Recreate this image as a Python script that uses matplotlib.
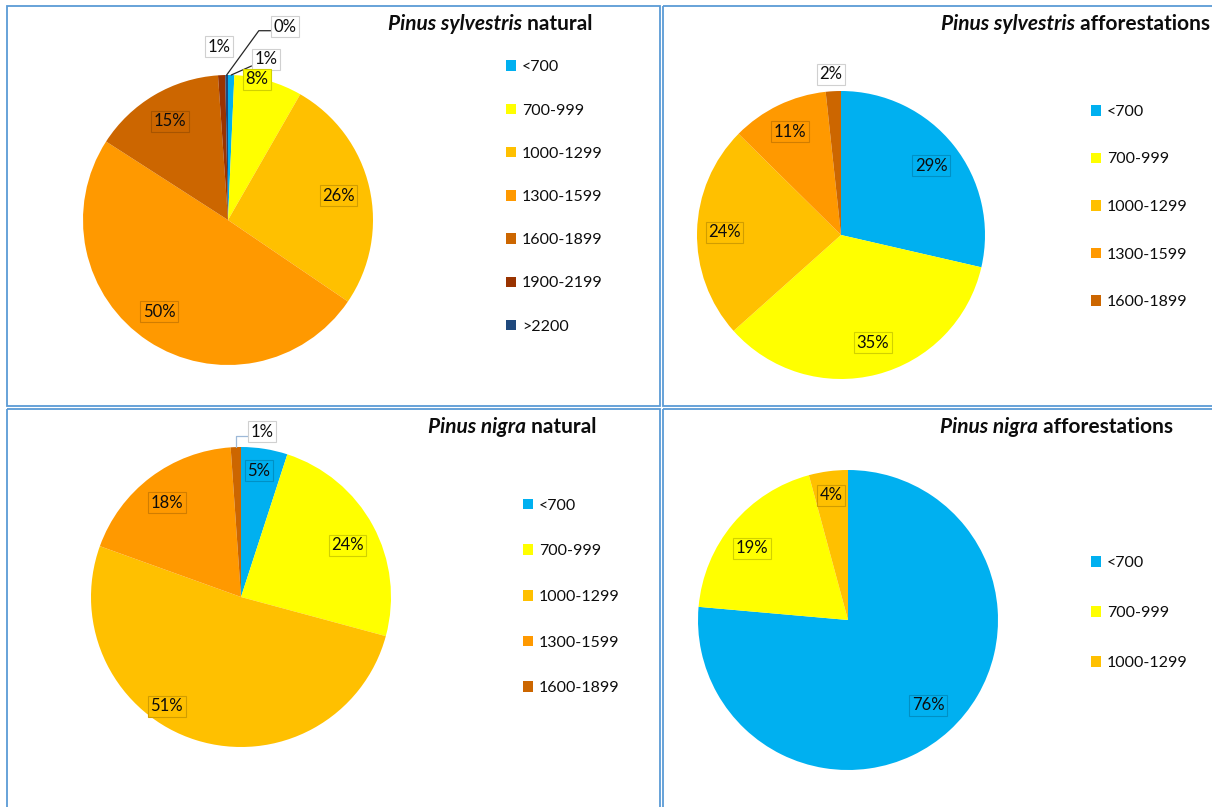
import numpy as np
import matplotlib.pyplot as plt
from matplotlib.patches import Rectangle
from matplotlib.colors import to_rgb

plt.rcParams['font.family'] = ['Lato', 'DejaVu Sans']

# altitude classes (m a.s.l.) and the fill used for each
bands = ['<700', '700-999', '1000-1299', '1300-1599', '1600-1899', '1900-2199', '>2200']
band_colors = ['#00B0F0', '#FFFF00', '#FFC000', '#FF9900', '#CC6600', '#993300', '#1F497D']

# share of stands in each altitude class (%)
sylvestris_natural = [0.7, 7.6, 26.2, 49.6, 14.8, 0.8, 0.3]
sylvestris_afforest = [28.6, 34.8, 24.0, 10.9, 1.7]
nigra_natural = [5.0, 24.2, 51.3, 18.4, 1.1]
nigra_afforest = [76.4, 19.4, 4.2]

W, H = 1212, 807
TXT = '#0D0D0D'
EDGE = '#5B9BD5'

fig = plt.figure(figsize=(W / 100, H / 100), dpi=100)
bg = fig.add_axes([0, 0, 1, 1])
bg.set_xlim(0, W)
bg.set_ylim(H, 0)
bg.axis('off')

# panel frames (x0, y0, x1, y1) in pixels
for x0, y0, x1, y1 in [(6.5, 5.5, 659.5, 406), (662.5, 5.5, 1230, 406),
                       (6.5, 409, 659.5, 830), (662.5, 409, 1230, 830)]:
    bg.add_patch(Rectangle((x0, y0), x1 - x0, y1 - y0, fill=False, ec=EDGE, lw=1.3))


def darker(c, f=0.82):
    r, g, b = to_rgb(c)
    return (r * f, g * f, b * f)


def title(x, y, species, rest):
    t = bg.text(x, y, species, fontsize=15, fontweight='bold', fontstyle='italic',
                color=TXT, ha='left', va='center')
    bg.annotate(' ' + rest, xy=(1, 0.5), xycoords=t, fontsize=15, fontweight='bold',
                color=TXT, ha='left', va='center')


def pie_panel(values, cx, cy, r, spots, legend_at, spacing, leader_color='#262626'):
    ax = fig.add_axes([(cx - r) / W, 1 - (cy + r) / H, 2 * r / W, 2 * r / H])
    cols = band_colors[:len(values)]
    wedges, _ = ax.pie(values, colors=cols, startangle=90, counterclock=False,
                       radius=1, wedgeprops=dict(linewidth=0))
    ax.set_xlim(-1, 1)
    ax.set_ylim(-1, 1)
    ax.axis('off')

    vals = np.asarray(values, dtype=float)
    mids = 360 * (np.cumsum(vals) - vals / 2) / vals.sum()
    for v, c, mid, (dist, shift, leader) in zip(vals, cols, mids, spots):
        lab = f'{v:.0f}%'
        a = np.deg2rad(90 - (mid + shift))
        x, y = dist * np.cos(a), dist * np.sin(a)
        inside = dist < 1.05
        box = dict(boxstyle='square,pad=0.15',
                   fc=c if inside else 'white',
                   ec=darker(c) if inside else '#D0D0D0', lw=0.8)
        if leader is None:
            ax.text(x, y, lab, fontsize=12, color=TXT, ha='center', va='center',
                    bbox=box, clip_on=False)
        else:
            e = np.deg2rad(90 - mid)
            ax.annotate(lab, xy=(np.cos(e), np.sin(e)), xytext=(x, y), fontsize=12,
                        color=TXT, ha='center', va='center', bbox=box,
                        arrowprops=dict(arrowstyle='-', color=leader_color, lw=0.9,
                                        shrinkA=0, shrinkB=0, relpos=(0, 0.25),
                                        connectionstyle=f'angle,angleA=0,angleB={leader},rad=0'))

    ax.legend(wedges, bands[:len(values)], loc='center left',
              bbox_to_anchor=(legend_at[0] / W, 1 - legend_at[1] / H),
              bbox_transform=fig.transFigure, frameon=False, fontsize=11.5,
              labelcolor=TXT, handlelength=0.65, handleheight=0.65,
              handletextpad=0.35, labelspacing=spacing, borderpad=0, borderaxespad=0)


# label spots per slice: (radius, angle shift in degrees, leader angle or None)
pie_panel(sylvestris_natural, 228, 220, 145,
          [(1.14, 12, 24), (0.99, -4.5, None), (0.78, 0.7, None), (0.79, 3.4, None),
           (0.79, 0.2, None), (1.195, -0.5, None), (1.39, 17, 54)],
          (506, 197), 1.83)
title(388, 24, 'Pinus sylvestris', 'natural')

pie_panel(sylvestris_afforest, 841, 235, 144,
          [(0.79, 1, None), (0.78, -2, None), (0.81, 0, None), (0.80, -0.4, None),
           (1.12, -0.5, None)],
          (1091, 207), 2.1)
title(941, 24, 'Pinus sylvestris', 'afforestations')

pie_panel(nigra_natural, 241, 597, 150,
          [(0.85, -0.9, None), (0.79, 2.5, None), (0.88, 16.7, None), (0.80, -1.1, None),
           (1.11, 9.3, 90)],
          (523, 597), 1.98, leader_color='#9DB9D8')
title(428, 427, 'Pinus nigra', 'natural')

pie_panel(nigra_afforest, 848, 620, 150,
          [(0.78, -0.8, None), (0.80, -3.1, None), (0.84, -0.1, None)],
          (1091, 613), 2.25)
title(940, 427, 'Pinus nigra', 'afforestations')

fig.savefig('out.png', dpi=100)
